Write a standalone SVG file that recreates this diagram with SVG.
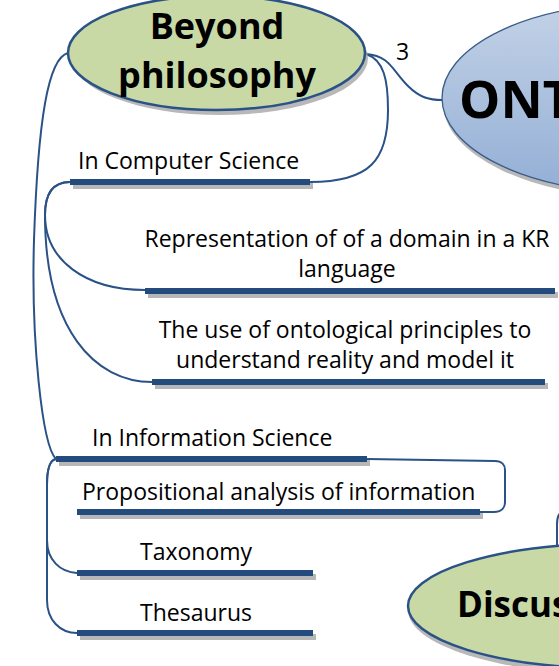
<svg xmlns="http://www.w3.org/2000/svg" width="559" height="666" viewBox="0 0 559 666">
<defs>
<linearGradient id="blue" x1="0" y1="0" x2="0" y2="1">
<stop offset="0" stop-color="#c3d2e7"/>
<stop offset="1" stop-color="#93afd5"/>
</linearGradient>
<style>
.conn{fill:none;stroke:#2a5286;stroke-width:2}
.bar{stroke:#234b7d;stroke-width:6;stroke-linecap:butt}
.barsh{stroke:#a6a6a6;stroke-width:6;opacity:0.8}
.sh{fill:#a6a6a6;opacity:0.8}
.green{fill:#c8d9a6;stroke:#2a5286;stroke-width:2.5}
.t{font-family:"Open Sans","Noto Sans",sans-serif;font-size:23px;fill:#000}
.big{font-family:"Open Sans","Noto Sans",sans-serif;font-weight:bold;fill:#000}
</style>
</defs>
<rect width="559" height="666" fill="#fff"/>
<g id="connectors">
<path class="conn" d="M366,54 C390,56 392,70 408,86 C420,98 430,100 442,100"/>
<path class="conn" d="M366,54 C384,60 388,80 388,110 C388,160 370,182 310,182"/>
<path class="conn" d="M68,53 C48,58 38,120 34,240 C31,340 42,445 56,459"/>
<path class="conn" d="M70,182 C52,182 45,195 45,215 C45,260 85,290 145,290"/>
<path class="conn" d="M70,182 C52,182 45,195 45,215 C45,330 95,382 152,382"/>
<path class="conn" d="M367,459 L495,461 C502,461 505,465 505,470 L505,502 C505,508 501,512 494,512 L480,512"/>
<path class="conn" d="M56,459 C49,460 47,470 47,485 L47,540 C47,560 60,572 77,573"/>
<path class="conn" d="M56,459 C49,460 47,470 47,485 L47,600 C47,620 60,633 77,633"/>
<path class="conn" d="M557,546 L557,525 C557,516 559,512 566,510"/>
</g>
<g id="beyond">
<ellipse class="sh" cx="220" cy="58" rx="148" ry="57"/>
<ellipse class="green" cx="216.5" cy="53" rx="148.5" ry="57"/>
<text class="big" font-size="36" x="217" y="39" text-anchor="middle">Beyond</text>
<text class="big" font-size="36" x="217" y="88" text-anchor="middle">philosophy</text>
</g>
<g id="label3">
<text class="t" font-size="19" x="396" y="60">3</text>
</g>
<g id="ontology">
<ellipse class="sh" cx="643" cy="103" rx="200" ry="95"/>
<ellipse cx="641" cy="98" rx="199" ry="95" fill="url(#blue)" stroke="#385d8a" stroke-width="1.3"/>
<text class="big" font-size="52" x="459" y="118">ONTOLOGY</text>
</g>
<g id="computer">
<line class="barsh" x1="73" y1="186" x2="313" y2="186"/>
<line class="bar" x1="70" y1="182" x2="310" y2="182"/>
<text class="t" x="78" y="169">In Computer Science</text>
</g>
<g id="representation">
<line class="barsh" x1="148" y1="295" x2="558" y2="295"/>
<line class="bar" x1="145" y1="291" x2="555" y2="291"/>
<text class="t" x="347" y="247" text-anchor="middle">Representation of of a domain in a KR</text>
<text class="t" x="347" y="277" text-anchor="middle">language</text>
</g>
<g id="ontological">
<line class="barsh" x1="155" y1="386" x2="548" y2="386"/>
<line class="bar" x1="152" y1="382" x2="545" y2="382"/>
<text class="t" x="345" y="338" text-anchor="middle">The use of ontological principles to</text>
<text class="t" x="345" y="368" text-anchor="middle">understand reality and model it</text>
</g>
<g id="information">
<line class="barsh" x1="59" y1="463" x2="370" y2="463"/>
<line class="bar" x1="56" y1="459" x2="367" y2="459"/>
<text class="t" x="92" y="446">In Information Science</text>
</g>
<g id="propositional">
<line class="barsh" x1="80" y1="516" x2="483" y2="516"/>
<line class="bar" x1="77" y1="512" x2="480" y2="512"/>
<text class="t" x="82" y="500">Propositional analysis of information</text>
</g>
<g id="taxonomy">
<line class="barsh" x1="80" y1="577" x2="316" y2="577"/>
<line class="bar" x1="77" y1="573" x2="313" y2="573"/>
<text class="t" x="140" y="560">Taxonomy</text>
</g>
<g id="thesaurus">
<line class="barsh" x1="80" y1="637" x2="316" y2="637"/>
<line class="bar" x1="77" y1="633" x2="313" y2="633"/>
<text class="t" x="140" y="621">Thesaurus</text>
</g>
<g id="discussion">
<ellipse class="sh" cx="612" cy="610" rx="204" ry="64"/>
<ellipse class="green" cx="610" cy="606" rx="202" ry="62" stroke-width="2"/>
<text class="big" font-size="35" x="457" y="617">Discussion</text>
</g>
</svg>
